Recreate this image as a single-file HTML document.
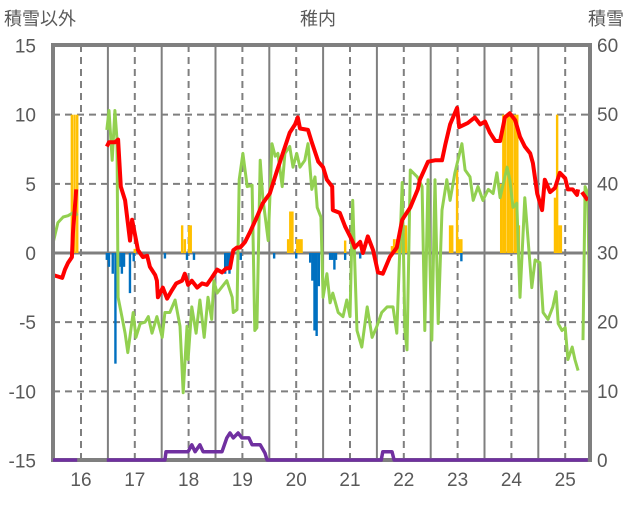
<!DOCTYPE html>
<html><head><meta charset="utf-8">
<style>
html,body{margin:0;padding:0;background:#fff;}
svg text{font-family:"Liberation Sans","Noto Sans CJK JP",sans-serif;fill:#595959;}
</style></head>
<body>
<svg id="chart" width="636" height="501" xmlns="http://www.w3.org/2000/svg">
<text x="318" y="25" font-size="18" text-anchor="middle">稚内</text>
<text x="4" y="25" font-size="18">積雪以外</text>
<text x="588" y="25" font-size="18">積雪</text>
<g id="grid"></g>
<g id="bars"></g>
<g id="lines"></g>
<g id="axes"></g>
</svg>
<script>
const dayLabels=[16,17,18,19,20,21,22,23,24,25];
const leftTicks=[15,10,5,0,-5,-10,-15];
const rightTicks=[60,50,40,30,20,10,0];
const redT=[15.48,15.57,15.65,15.70,15.76,15.83,15.85,15.91,null,16.48,16.52,16.63,16.69,16.74,16.82,16.87,16.91,16.95,17.00,17.06,17.15,17.23,17.28,17.38,17.41,17.43,17.52,17.60,17.69,17.77,17.88,17.93,17.99,18.06,18.16,18.25,18.34,18.43,18.53,18.62,18.70,18.77,18.83,18.90,18.96,19.05,19.14,19.27,19.38,19.51,19.64,19.75,19.88,19.98,20.03,20.07,20.22,20.29,20.41,20.50,20.57,20.67,20.68,20.81,20.91,21.04,21.09,21.19,21.24,21.33,21.43,21.52,21.61,21.74,21.87,21.97,22.12,22.26,22.30,22.45,22.58,22.71,22.77,22.86,22.99,23.03,23.19,23.32,23.42,23.51,23.60,23.70,23.79,23.88,23.97,24.07,24.16,24.25,24.35,24.40,24.48,24.57,24.62,24.72,24.81,24.90,25.00,25.05,25.14,25.22,25.24,null,25.31,25.42];
const redV=[-1.6,-1.7,-1.8,-1.2,-0.7,-0.3,1.4,4.6,null,7.7,8.0,8.0,8.2,4.8,3.8,2.2,0.9,2.4,1.4,0.2,-0.3,-0.2,-1.0,-1.6,-2.0,-3.2,-2.5,-3.3,-2.7,-2.2,-2.0,-1.5,-2.3,-2.0,-2.5,-2.2,-2.3,-1.8,-1.2,-1.4,-1.1,-1.1,0.2,0.4,0.4,0.8,1.5,2.6,3.6,4.3,5.9,7.2,8.7,9.3,9.8,9.0,8.9,8.0,6.6,6.2,5.3,4.8,3.1,2.9,1.9,0.9,0.4,0.8,0,1.2,0.2,-1.4,-1.5,-0.3,0.4,2.4,3.3,4.6,5.3,6.6,6.7,6.7,7.8,9.3,10.5,9.1,9.4,9.8,9.3,9.5,8.7,8.1,8.1,9.8,10.1,9.6,8.4,7.7,7.2,6.5,4.3,3.1,5.3,4.4,4.7,5.8,5.4,4.6,4.6,4.2,4.6,null,4.4,3.8];
const greenT=[15.48,15.57,15.67,15.76,15.89,15.93,null,16.48,16.52,16.58,16.63,16.67,16.69,16.76,16.82,16.87,16.97,17.02,17.10,17.19,17.25,17.32,17.41,17.51,17.56,17.65,17.75,17.84,17.90,17.97,17.99,18.06,18.14,18.21,18.29,18.36,18.43,18.47,18.53,18.71,18.81,18.83,18.90,18.94,19.01,19.09,19.18,19.23,19.27,19.33,19.38,19.48,19.55,19.61,19.66,19.74,19.79,19.88,19.94,20.01,20.07,20.16,20.22,20.29,20.35,20.39,20.46,20.50,20.57,20.63,20.68,20.78,20.87,20.94,21.00,21.05,21.13,21.22,21.32,21.41,21.50,21.59,21.69,21.80,21.87,21.97,22.02,22.06,22.12,22.25,22.34,22.39,22.45,22.52,22.58,22.64,22.71,22.80,22.86,22.95,23.08,23.14,23.23,23.29,23.38,23.47,23.57,23.66,23.73,23.79,23.92,23.97,24.03,24.10,24.16,24.25,24.38,24.44,24.53,24.59,24.68,24.77,24.83,24.87,24.94,25.00,25.05,25.13,25.18,25.24,null,25.33,25.37,25.42,25.46];
const greenV=[0.7,2.2,2.6,2.7,3.0,2.7,null,8.9,10.3,6.7,10.3,8.2,-3.2,-4.6,-5.8,-7.2,-4.3,-6.1,-5.1,-5.0,-4.6,-5.8,-4.6,-6.1,-4.3,-4.3,-3.4,-5.3,-10.1,-5.3,-7.7,-3.9,-5.8,-3.4,-6.1,-3.2,-4.8,-2.0,-2.9,-2.0,-3.2,-4.3,-4.1,5.3,7.2,4.8,4.9,-5.6,-5.4,6.7,4.0,0.9,7.9,7.0,7.2,4.8,7.2,7.7,6.2,7.2,6.2,6.7,7.9,4.6,5.5,3.3,2.6,-3.2,-1.5,-3.6,-2.9,-4.3,-4.6,-3.4,-4.6,3.8,-5.6,-6.8,-3.9,-6.1,-5.3,-4.3,-3.9,-3.9,-5.8,5.1,-5.6,-7.0,6.0,5.5,4.8,-5.6,5.3,-6.3,5.3,-5.1,3.1,5.3,3.8,5.8,7.9,6.0,5.5,3.8,4.8,3.8,4.6,4.3,5.8,4.0,6.2,5.3,3.3,3.6,-3.2,4.0,-2.5,-0.5,-0.7,-4.3,-4.8,-3.9,-2.8,-5.1,-5.6,-5.4,-7.7,-6.8,-7.7,-8.5,null,-6.3,4.8,4.3,-5.8];
const orangeT=[15.83,15.88,15.93,17.00,17.88,17.93,18.01,18.04,19.85,19.89,19.93,20.02,20.06,20.10,20.91,21.78,21.82,21.87,21.91,21.95,22.00,22.04,22.86,22.90,22.99,23.03,23.07,23.81,23.85,23.89,23.94,23.98,24.02,24.07,24.11,24.14,24.81,24.85,24.89,24.92];
const orangeV=[10,10,10,0.3,2,1,2,2,1,3,3,1,1,1,0.9,0.5,1,1,1,1,1.5,2,2,2,6,1,1,5,10,10,10,10,10,10,10,2,4,10,2,2];
const blueT=[16.48,16.52,16.59,16.64,16.69,16.72,16.76,16.80,16.91,16.98,17.56,17.97,18.10,18.68,18.72,18.76,18.97,19.59,20.00,20.26,20.30,20.34,20.38,20.42,20.63,20.67,20.71,20.74,20.91,21.19,23.07];
const blueV=[-0.5,-1.0,-1.5,-8.0,-2.8,-1.0,-1.5,-1.0,-2.9,-0.6,-0.4,-0.5,-0.5,-1.5,-1.0,-1.5,-0.5,-0.4,-0.4,-0.7,-2.0,-5.6,-6.0,-2.4,-0.5,-0.5,-1.2,-0.5,-0.5,-0.4,-0.6];
const purpleT=[15.48,15.93,null,16.48,17.56,17.58,17.99,18.06,18.12,18.21,18.27,18.62,18.71,18.77,18.83,18.92,18.99,19.12,19.18,19.33,19.42,19.46,21.58,21.61,21.78,21.82,25.42];
const purpleV=[0,0,null,0,0,1.2,1.2,2.2,1.2,2.2,1.2,1.2,3.2,3.9,3.2,3.9,3.2,3.2,2.2,2.2,1.0,0,0,1.2,1.2,0,0];

const L=53,R=590,T=45,B=460;
const xS=t=>81+(t-16)*53.8;
const yL=v=>253-(v)*13.833;
const yR=v=>B-(v)*(415/60);
const NS='http://www.w3.org/2000/svg';
function mk(tag,attrs,parent){const e=document.createElementNS(NS,tag);for(const k in attrs)e.setAttribute(k,attrs[k]);parent.appendChild(e);return e;}
const grid=document.getElementById('grid'),bars=document.getElementById('bars'),lines=document.getElementById('lines'),axes=document.getElementById('axes');
// horizontal gridlines
[10,5,-5,-10].forEach(v=>{const l=mk('line',{x1:L,x2:R,y1:yL(v),y2:yL(v),stroke:'#7f7f7f','stroke-width':2,'stroke-dasharray':'7,5'},grid);

});
// vertical gridlines
dayLabels.forEach(d=>{const x=xS(d);
const l=mk('line',{x1:x,x2:x,y1:T,y2:B,stroke:'#7f7f7f','stroke-width':2,'stroke-dasharray':'7,5'},grid);


if(d<25){const x2=xS(d+0.5);const s=mk('line',{x1:x2,x2:x2,y1:T,y2:B,stroke:'#7f7f7f','stroke-width':2},grid);

}
const tx=mk('text',{x:x,y:486,'font-size':19,'text-anchor':'middle'},axes);tx.textContent=d;

});
// bars
const bw=2.4;
orangeT.forEach((t,i)=>{const y=yL(orangeV[i]);const r=mk('rect',{x:xS(t)-bw/2,y:y,width:bw,height:yL(0)-y,fill:'#ffc000'},bars);

});
blueT.forEach((t,i)=>{const r=mk('rect',{x:xS(t)-bw/2,y:yL(0),width:bw,height:yL(blueV[i])-yL(0),fill:'#0070c0'},bars);

});
// zero line
const z=mk('line',{x1:L,x2:R,y1:yL(0),y2:yL(0),stroke:'#7f7f7f','stroke-width':3},grid);


function path(ts,vs,ys){let d='',pen=false;ts.forEach((t,i)=>{if(t===null){pen=false;return;}d+=(pen?'L':'M')+xS(t).toFixed(1)+','+ys(vs[i]).toFixed(1);pen=true;});return d;}
// border
const bd=mk('rect',{x:L,y:T,width:R-L,height:B-T,fill:'none',stroke:'#7f7f7f','stroke-width':4},axes);


const g=mk('path',{d:path(greenT,greenV,yL),fill:'none',stroke:'#92d050','stroke-width':3,'stroke-linejoin':'round'},lines);


const r=mk('path',{d:path(redT,redV,yL),fill:'none',stroke:'#ff0000','stroke-width':4,'stroke-linejoin':'round'},lines);


const p=mk('path',{d:path(purpleT,purpleV,yR),fill:'none',stroke:'#7030a0','stroke-width':3.5,'stroke-linejoin':'round'},axes);


leftTicks.forEach(v=>{const t=mk('text',{x:36,y:yL(v)+7,'font-size':19,'text-anchor':'end'},axes);t.textContent=v;

});
rightTicks.forEach(v=>{const t=mk('text',{x:597,y:yR(v)+7,'font-size':19},axes);t.textContent=v;

});
</script>
</body></html>
